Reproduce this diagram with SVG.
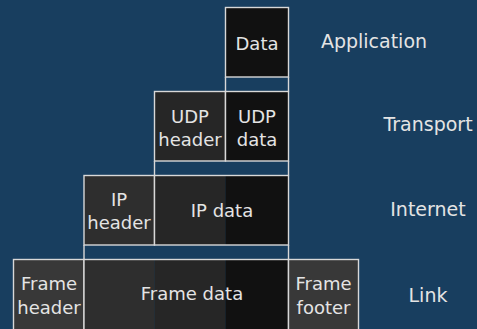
<svg xmlns="http://www.w3.org/2000/svg" width="477" height="329" viewBox="0 0 477 329">
  <style>
    .box { stroke: #d8d8d8; stroke-width: 1.4; }
    .seg { stroke: none; }
    .edge { stroke: #d8d8d8; stroke-width: 1.4; fill: none; }
    .txt { font-family: "DejaVu Sans", "Liberation Sans", sans-serif; font-size: 18px; fill: #e4e4e4; text-anchor: middle; }
    .layer { font-family: "DejaVu Sans", "Liberation Sans", sans-serif; font-size: 19px; fill: #e4e4e4; text-anchor: middle; }
    .c0 { fill: #111111; }
    .c1 { fill: #262626; }
    .c2 { fill: #2e2e2e; }
    .c3 { fill: #383838; }
  </style>
  <rect x="0" y="0" width="477" height="329" fill="#183e5f"/>

  <!-- connectors between encapsulation levels -->
  <g id="connectors">
    <line class="edge" x1="225.5" y1="77" x2="225.5" y2="91.5"/>
    <line class="edge" x1="288.5" y1="77" x2="288.5" y2="91.5"/>
    <line class="edge" x1="154.5" y1="161" x2="154.5" y2="175.5"/>
    <line class="edge" x1="288.5" y1="161" x2="288.5" y2="175.5"/>
    <line class="edge" x1="84" y1="245" x2="84" y2="259.5"/>
    <line class="edge" x1="288.5" y1="245" x2="288.5" y2="259.5"/>
  </g>

  <!-- application layer -->
  <g id="app-data">
    <rect class="box c0" x="225.5" y="7.5" width="63" height="69.5"/>
    <text class="txt" x="257" y="50">Data</text>
  </g>

  <!-- transport layer -->
  <g id="udp-header">
    <rect class="box c1" x="154.5" y="91.5" width="71" height="69.5"/>
    <text class="txt" x="190" y="122.5">UDP</text>
    <text class="txt" x="190" y="146">header</text>
  </g>
  <g id="udp-data">
    <rect class="box c0" x="225.5" y="91.5" width="63" height="69.5"/>
    <text class="txt" x="257" y="122.5">UDP</text>
    <text class="txt" x="257" y="146">data</text>
  </g>

  <!-- internet layer -->
  <g id="ip-header">
    <rect class="box c2" x="84" y="175.5" width="70.5" height="69.5"/>
    <text class="txt" x="119" y="205.5">IP</text>
    <text class="txt" x="119" y="229">header</text>
  </g>
  <g id="ip-data">
    <rect class="seg c1" x="154.5" y="175.5" width="71" height="69.5"/>
    <rect class="seg c0" x="225.5" y="175.5" width="63" height="69.5"/>
    <rect class="box" fill="none" x="154.5" y="175.5" width="134" height="69.5"/>
    <text class="txt" x="222" y="216.5">IP data</text>
  </g>

  <!-- link layer -->
  <g id="frame-header">
    <rect class="box c3" x="13.5" y="259.5" width="70.5" height="75"/>
    <text class="txt" x="49" y="290">Frame</text>
    <text class="txt" x="49" y="314">header</text>
  </g>
  <g id="frame-data">
    <rect class="seg c2" x="84" y="259.5" width="70.5" height="75"/>
    <rect class="seg c1" x="154.5" y="259.5" width="71" height="75"/>
    <rect class="seg c0" x="225.5" y="259.5" width="63" height="75"/>
    <rect class="box" fill="none" x="84" y="259.5" width="204.5" height="75"/>
    <text class="txt" x="192" y="300">Frame data</text>
  </g>
  <g id="frame-footer">
    <rect class="box c3" x="288.5" y="259.5" width="70" height="75"/>
    <text class="txt" x="323.5" y="290">Frame</text>
    <text class="txt" x="323.5" y="314">footer</text>
  </g>

  <!-- layer names -->
  <g id="layers">
    <text class="layer" x="374" y="48">Application</text>
    <text class="layer" x="428" y="131">Transport</text>
    <text class="layer" x="428" y="216">Internet</text>
    <text class="layer" x="428" y="301.5">Link</text>
  </g>
</svg>
